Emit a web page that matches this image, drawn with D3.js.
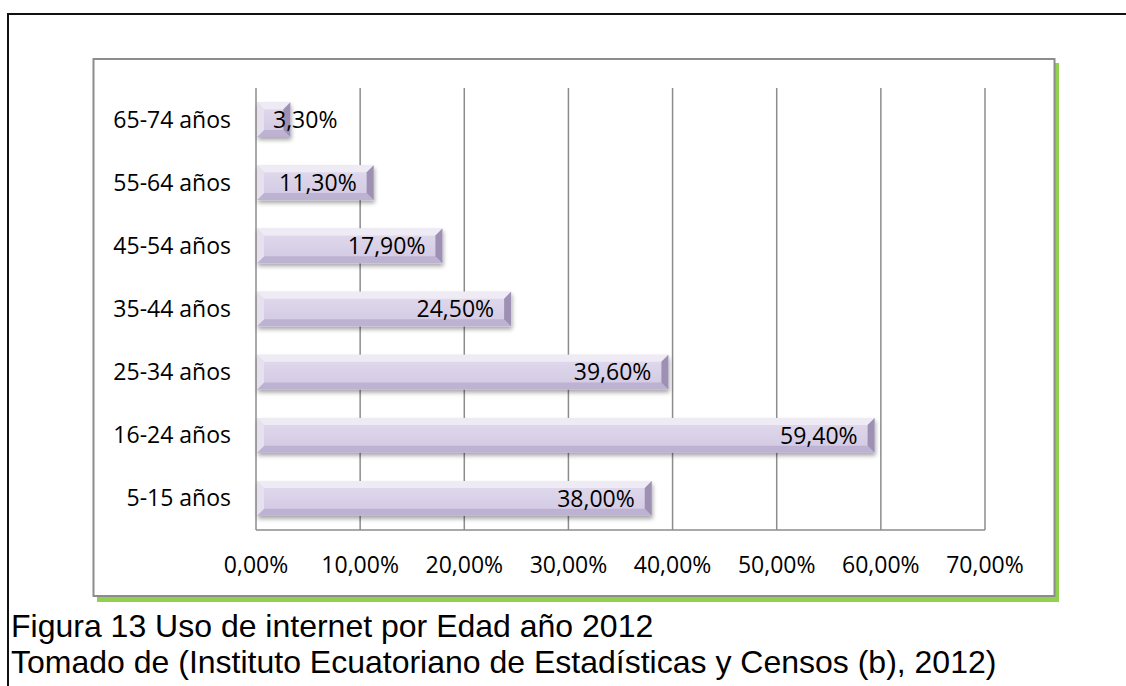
<!DOCTYPE html>
<html>
<head>
<meta charset="utf-8">
<script src="https://cdn.jsdelivr.net/npm/d3@7"></script>
<style>
  body { margin: 0; background: #fff; }
  svg { display: block; }
</style>
</head>
<body>
<div id="chart"></div>
<script>
const categories = ['65-74 años', '55-64 años', '45-54 años', '35-44 años', '25-34 años', '16-24 años', '5-15 años']
const values = [3.3, 11.3, 17.9, 24.5, 39.6, 59.4, 38.0]
const xTicks = [0, 10, 20, 30, 40, 50, 60, 70]
const captionLines = [
  'Figura 13 Uso de internet por Edad año 2012',
  'Tomado de (Instituto Ecuatoriano de Estadísticas y Censos (b), 2012)'
]

const width = 1126
const height = 686
const labelFont = '"Open Sans", sans-serif'

const locale = d3.formatLocale({ decimal: ',', thousands: '.', grouping: [3], currency: ['', '€'] })
const pct = locale.format('.2f')

const svg = d3.select('#chart').append('svg')
  .attr('width', width)
  .attr('height', height)

const defs = svg.append('defs')
const shadow = defs.append('filter')
  .attr('id', 'barShadow')
  .attr('x', '-10%').attr('y', '-30%')
  .attr('width', '130%').attr('height', '180%')
shadow.append('feDropShadow')
  .attr('dx', 1).attr('dy', 3)
  .attr('stdDeviation', 2.2)
  .attr('flood-color', '#000')
  .attr('flood-opacity', 0.35)

const grad = defs.append('linearGradient')
  .attr('id', 'barFill')
  .attr('x1', 0).attr('x2', 0).attr('y1', 0).attr('y2', 1)
grad.append('stop').attr('offset', '0%').attr('stop-color', '#e2dcee')
grad.append('stop').attr('offset', '100%').attr('stop-color', '#d1c7e2')

// --- outer page frame ---
svg.append('line')
  .attr('x1', 8).attr('x2', width).attr('y1', 14).attr('y2', 14)
  .attr('stroke', '#111').attr('stroke-width', 2)
svg.append('line')
  .attr('x1', 8).attr('x2', 8).attr('y1', 13).attr('y2', height)
  .attr('stroke', '#111').attr('stroke-width', 2)

// --- chart box with green shadow ---
svg.append('rect')
  .attr('x', 97).attr('y', 63).attr('width', 962).attr('height', 539)
  .attr('fill', '#92d050')
svg.append('rect')
  .attr('x', 93.5).attr('y', 59).attr('width', 961).attr('height', 537)
  .attr('fill', '#fff')
  .attr('stroke', '#8c8c8c').attr('stroke-width', 2)

// --- scales ---
const x = d3.scaleLinear().domain([0, 70]).range([256, 985])
const y = d3.scaleBand().domain(categories).range([88, 530])
  .paddingInner(0.45).paddingOuter(0.225)

// --- grid ---
svg.append('g')
  .selectAll('line')
  .data(xTicks)
  .join('line')
    .attr('x1', d => x(d)).attr('x2', d => x(d))
    .attr('y1', 88).attr('y2', 530)
    .attr('stroke', '#8c8c8c').attr('stroke-width', 1.5)
svg.append('line')
  .attr('x1', x(0)).attr('x2', x(70)).attr('y1', 530).attr('y2', 530)
  .attr('stroke', '#8c8c8c').attr('stroke-width', 1.5)

// --- x tick labels ---
svg.append('g')
  .selectAll('text')
  .data(xTicks)
  .join('text')
    .attr('x', d => x(d))
    .attr('y', 573)
    .attr('text-anchor', 'middle')
    .attr('font-family', labelFont)
    .attr('font-size', 23)
    .attr('fill', '#000')
    .text(d => pct(d) + '%')

// --- y category labels ---
svg.append('g')
  .selectAll('text')
  .data(categories)
  .join('text')
    .attr('x', 231)
    .attr('y', d => y(d) + y.bandwidth() / 2)
    .attr('dy', '0.35em')
    .attr('text-anchor', 'end')
    .attr('font-family', labelFont)
    .attr('font-size', 23)
    .attr('fill', '#000')
    .text(d => d)

// --- bevelled bars ---
const rows = categories.map((c, i) => ({ cat: c, value: values[i] }))
const bevel = 7

const bar = svg.append('g')
  .selectAll('g')
  .data(rows)
  .join('g')
    .attr('transform', d => `translate(${x(0) + 1},${y(d.cat)})`)

bar.append('rect')
  .attr('width', d => x(d.value) - x(0) - 1)
  .attr('height', y.bandwidth())
  .attr('fill', 'url(#barFill)')
  .attr('filter', 'url(#barShadow)')

function facet(d, side) {
  const w = x(d.value) - x(0) - 1
  const h = y.bandwidth()
  const b = Math.min(bevel, w / 2)
  if (side === 'top') return [[0, 0], [w, 0], [w - b, b], [b, b]]
  if (side === 'bottom') return [[0, h], [w, h], [w - b, h - b], [b, h - b]]
  if (side === 'left') return [[0, 0], [b, b], [b, h - b], [0, h]]
  return [[w, 0], [w - b, b], [w - b, h - b], [w, h]]
}
const facetFill = { top: '#efebf5', bottom: '#beb2d2', left: '#e6e0ef', right: '#9d90b2' }
;['top', 'bottom', 'left', 'right'].forEach(side => {
  bar.append('polygon')
    .attr('points', d => facet(d, side).map(p => p.join(',')).join(' '))
    .attr('fill', facetFill[side])
})

// --- value labels, inside end ---
bar.append('text')
  .attr('y', y.bandwidth() / 2)
  .attr('dy', '0.36em')
  .attr('font-family', labelFont)
  .attr('font-size', 23)
  .attr('fill', '#000')
  .text(d => pct(d.value) + '%')
  .each(function(d) {
    const w = x(d.value) - x(0)
    const tw = this.getComputedTextLength()
    d3.select(this).attr('x', Math.max(w - 18 - tw, 16))
  })

// --- caption ---
svg.append('g')
  .selectAll('text')
  .data(captionLines)
  .join('text')
    .attr('x', 11)
    .attr('y', (d, i) => 637 + i * 36)
    .attr('font-family', '"Liberation Sans", Arial, sans-serif')
    .attr('font-size', 32)
    .attr('fill', '#000')
    .text(d => d)
</script>
</body>
</html>
